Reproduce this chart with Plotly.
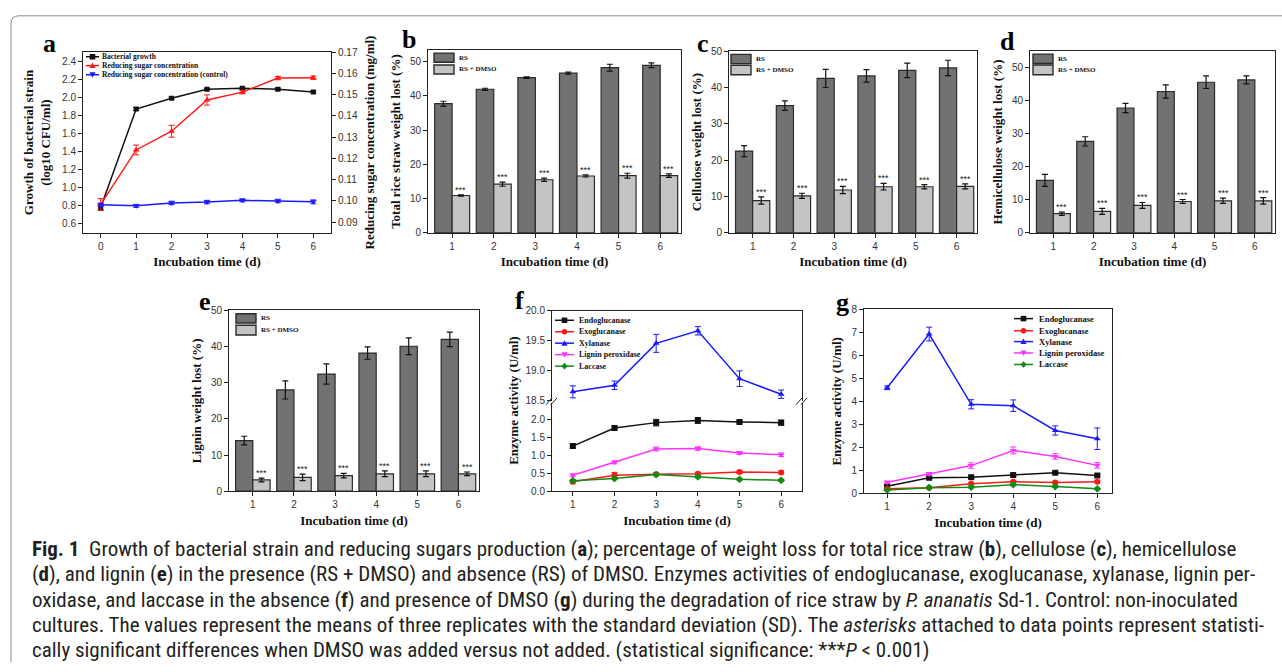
import plotly.graph_objects as go

W, H = 1282, 672

# ---------------- data ----------------
days_a = [0, 1, 2, 3, 4, 5, 6]
growth = [0.78, 1.87, 1.99, 2.09, 2.10, 2.09, 2.06]
growth_err = [0.03, 0.015, 0.012, 0.01, 0.012, 0.012, 0.01]
sugar = [0.0984, 0.1240, 0.1328, 0.1475, 0.1512, 0.1578, 0.1580]
sugar_err = [0.0027, 0.0023, 0.0028, 0.0024, 0.0008, 0.0008, 0.0008]
sugar_ctrl = [0.0982, 0.0977, 0.0991, 0.0995, 0.1003, 0.1000, 0.0996]
sugar_ctrl_err = [0.0008, 0.0007, 0.0008, 0.0008, 0.0007, 0.0008, 0.0009]

days = [1, 2, 3, 4, 5, 6]
b_rs = [37.7, 41.9, 45.3, 46.6, 48.2, 48.9]
b_rs_err = [0.7, 0.3, 0.2, 0.3, 1.0, 0.7]
b_dm = [10.9, 14.2, 15.5, 16.6, 16.7, 16.7]
b_dm_err = [0.2, 0.6, 0.5, 0.3, 0.7, 0.5]

c_rs = [22.5, 35.0, 42.5, 43.2, 44.7, 45.4]
c_rs_err = [1.5, 1.3, 2.5, 1.7, 2.0, 2.1]
c_dm = [8.9, 10.2, 11.8, 12.7, 12.7, 12.8]
c_dm_err = [1.0, 0.7, 1.0, 0.9, 0.6, 0.7]

d_rs = [15.9, 27.7, 37.8, 42.8, 45.6, 46.3]
d_rs_err = [1.8, 1.4, 1.4, 2.0, 1.9, 1.2]
d_dm = [5.8, 6.5, 8.3, 9.5, 9.7, 9.7]
d_dm_err = [0.5, 0.9, 0.9, 0.6, 0.8, 1.0]

e_rs = [14.0, 28.0, 32.4, 38.2, 40.1, 42.0]
e_rs_err = [1.2, 2.5, 2.8, 1.7, 2.3, 2.0]
e_dm = [3.1, 3.8, 4.3, 4.8, 4.8, 4.8]
e_dm_err = [0.5, 0.9, 0.6, 0.8, 0.8, 0.5]

enzymes = ["Endoglucanase", "Exoglucanase", "Xylanase", "Lignin peroxidase", "Laccase"]
f_endo = [1.25, 1.75, 1.90, 1.96, 1.92, 1.90]
f_endo_err = [0.06, 0.06, 0.09, 0.08, 0.03, 0.07]
f_exo = [0.26, 0.44, 0.47, 0.48, 0.53, 0.52]
f_exo_err = [0.05, 0.08, 0.04, 0.04, 0.04, 0.04]
f_xyl = [18.64, 18.75, 19.45, 19.66, 18.86, 18.60]
f_xyl_err = [0.10, 0.07, 0.15, 0.07, 0.13, 0.07]
f_lip = [0.44, 0.80, 1.17, 1.18, 1.06, 1.01]
f_lip_err = [0.04, 0.04, 0.05, 0.05, 0.04, 0.05]
f_lac = [0.29, 0.35, 0.46, 0.40, 0.33, 0.30]
f_lac_err = [0.03, 0.03, 0.03, 0.03, 0.03, 0.03]

g_endo = [0.30, 0.67, 0.69, 0.79, 0.89, 0.77]
g_endo_err = [0.04, 0.05, 0.05, 0.05, 0.05, 0.05]
g_exo = [0.19, 0.23, 0.41, 0.50, 0.46, 0.50]
g_exo_err = [0.03, 0.03, 0.04, 0.04, 0.04, 0.04]
g_xyl = [4.59, 6.93, 3.87, 3.81, 2.73, 2.37]
g_xyl_err = [0.08, 0.30, 0.20, 0.25, 0.20, 0.47]
g_lip = [0.47, 0.83, 1.20, 1.86, 1.60, 1.21]
g_lip_err = [0.05, 0.07, 0.12, 0.15, 0.12, 0.12]
g_lac = [0.14, 0.24, 0.26, 0.37, 0.29, 0.19]
g_lac_err = [0.03, 0.03, 0.03, 0.04, 0.03, 0.03]

x_title = "Incubation time (d)"

# ---------------- style ----------------
SERIF = "Liberation Serif, Times New Roman, serif"
SANS = "Liberation Sans, Arial, sans-serif"
RS_COL = "#727272"
DM_COL = "#c4c4c4"
EDGE = "#2b2b2b"
AX = "#222222"
EN_COL = ["#111111", "#ff1a1a", "#1a1aff", "#ff33ff", "#138a13"]
EN_SYM = ["square", "circle", "triangle-up", "triangle-down", "diamond"]


def xd(a, b):
    return [a / W, b / W]


def yd(top, bottom):
    return [1 - bottom / H, 1 - top / H]


def PX(x):
    return x / W


def PY(y):
    return 1 - y / H


def ax_style(**kw):
    d = dict(showline=True, linecolor=AX, linewidth=1, mirror=True, ticks="outside",
             ticklen=4, tickcolor=AX, tickwidth=1,
             tickfont=dict(family=SANS, size=10, color="#333333"),
             showgrid=False, zeroline=False)
    d.update(kw)
    return d


TITLE_FONT = dict(family=SERIF, size=13, color="#111111")

fig = go.Figure()
annotations = []
shapes = []

# ---------------- panel a ----------------
fig.add_trace(go.Scatter(
    x=days_a, y=growth, xaxis="x", yaxis="y", mode="lines+markers", name="Bacterial growth",
    line=dict(color=EN_COL[0], width=1.5), marker=dict(symbol="square", size=5, color=EN_COL[0]),
    error_y=dict(type="data", array=growth_err, color=EN_COL[0], thickness=1, width=3),
    showlegend=False))
fig.add_trace(go.Scatter(
    x=days_a, y=sugar, xaxis="x", yaxis="y2", mode="lines+markers", name="Reducing sugar concentration",
    line=dict(color=EN_COL[1], width=1.5), marker=dict(symbol="triangle-up", size=6, color=EN_COL[1]),
    error_y=dict(type="data", array=sugar_err, color=EN_COL[1], thickness=1, width=3),
    showlegend=False))
fig.add_trace(go.Scatter(
    x=days_a, y=sugar_ctrl, xaxis="x", yaxis="y2", mode="lines+markers",
    name="Reducing sugar concentration (control)",
    line=dict(color=EN_COL[2], width=1.5), marker=dict(symbol="triangle-down", size=6, color=EN_COL[2]),
    error_y=dict(type="data", array=sugar_ctrl_err, color=EN_COL[2], thickness=1, width=3),
    showlegend=False))

# ---------------- bar panels ----------------
BARGAP = 0.16
OFF = (1 - BARGAP) / 4


def add_bars(xa, ya, rs, rs_err, dm, dm_err):
    fig.add_trace(go.Bar(
        x=days, y=rs, xaxis=xa, yaxis=ya, name="RS",
        marker=dict(color=RS_COL, line=dict(color=EDGE, width=1.2)),
        error_y=dict(type="data", array=rs_err, color="#111111", thickness=1.2, width=3),
        showlegend=False))
    fig.add_trace(go.Bar(
        x=days, y=dm, xaxis=xa, yaxis=ya, name="RS + DMSO",
        marker=dict(color=DM_COL, line=dict(color=EDGE, width=1.2)),
        error_y=dict(type="data", array=dm_err, color="#111111", thickness=1.2, width=3),
        showlegend=False))
    for d, v, e in zip(days, dm, dm_err):
        annotations.append(dict(
            x=d + OFF, y=v + e, xref=xa, yref=ya, text="***", showarrow=False,
            xanchor="center", yanchor="bottom", yshift=-2,
            font=dict(family=SANS, size=9, color="#222222")))


add_bars("x2", "y3", b_rs, b_rs_err, b_dm, b_dm_err)
add_bars("x3", "y4", c_rs, c_rs_err, c_dm, c_dm_err)
add_bars("x4", "y5", d_rs, d_rs_err, d_dm, d_dm_err)
add_bars("x5", "y6", e_rs, e_rs_err, e_dm, e_dm_err)

# ---------------- enzyme panels ----------------
f_series = [(f_endo, f_endo_err, "y7"), (f_exo, f_exo_err, "y7"), (f_xyl, f_xyl_err, "y8"),
            (f_lip, f_lip_err, "y7"), (f_lac, f_lac_err, "y7")]
for i, (vals, errs, ya) in enumerate(f_series):
    fig.add_trace(go.Scatter(
        x=days, y=vals, xaxis="x6", yaxis=ya, mode="lines+markers", name=enzymes[i],
        line=dict(color=EN_COL[i], width=1.5), marker=dict(symbol=EN_SYM[i], size=6, color=EN_COL[i]),
        error_y=dict(type="data", array=errs, color=EN_COL[i], thickness=1, width=3),
        showlegend=False))

g_series = [(g_endo, g_endo_err), (g_exo, g_exo_err), (g_xyl, g_xyl_err),
            (g_lip, g_lip_err), (g_lac, g_lac_err)]
for i, (vals, errs) in enumerate(g_series):
    fig.add_trace(go.Scatter(
        x=days, y=vals, xaxis="x7", yaxis="y9", mode="lines+markers", name=enzymes[i],
        line=dict(color=EN_COL[i], width=1.5), marker=dict(symbol=EN_SYM[i], size=6, color=EN_COL[i]),
        error_y=dict(type="data", array=errs, color=EN_COL[i], thickness=1, width=3),
        showlegend=False))

# ---------------- axes ----------------
xt = dict(text="<b>" + x_title + "</b>", font=TITLE_FONT, standoff=6)
layout_axes = dict(
    xaxis=ax_style(domain=xd(83, 331), anchor="y", range=[-0.5, 6.5], dtick=1, title=xt),
    yaxis=ax_style(domain=yd(47, 231), anchor="x", range=[0.5, 2.5], dtick=0.2, tickformat=".1f",
                   title=dict(text="<b>Growth of bacterial strain<br>(log10 CFU/ml)</b>", font=TITLE_FONT,
                              standoff=8)),
    yaxis2=ax_style(overlaying="y", side="right", anchor="x", range=[0.085, 0.17], dtick=0.01,
                    tickformat=".2f", mirror=False,
                    title=dict(text="<b>Reducing sugar concentration (mg/ml)</b>", font=TITLE_FONT,
                               standoff=8)),
    xaxis2=ax_style(domain=xd(428, 681), anchor="y3", range=[0.42, 6.5], dtick=1, title=xt),
    yaxis3=ax_style(domain=yd(45, 231), anchor="x2", range=[0, 53.3], dtick=10,
                    title=dict(text="<b>Total rice straw weight lost (%)</b>", font=TITLE_FONT, standoff=6)),
    xaxis3=ax_style(domain=xd(729, 977), anchor="y4", range=[0.42, 6.5], dtick=1, title=xt),
    yaxis4=ax_style(domain=yd(46, 231), anchor="x3", range=[0, 50], dtick=10,
                    title=dict(text="<b>Cellulose weight lost (%)</b>", font=TITLE_FONT, standoff=6)),
    xaxis4=ax_style(domain=xd(1030, 1275), anchor="y5", range=[0.42, 6.5], dtick=1, title=xt),
    yaxis5=ax_style(domain=yd(46, 231), anchor="x4", range=[0, 55], dtick=10,
                    title=dict(text="<b>Hemicellulose weight lost (%)</b>", font=TITLE_FONT, standoff=6)),
    xaxis5=ax_style(domain=xd(229, 479), anchor="y6", range=[0.42, 6.5], dtick=1, title=xt),
    yaxis6=ax_style(domain=yd(310, 494), anchor="x5", range=[0, 50], dtick=10,
                    title=dict(text="<b>Lignin weight lost (%)</b>", font=TITLE_FONT, standoff=6)),
    xaxis6=ax_style(domain=xd(552, 802), anchor="y7", range=[0.5, 6.5], dtick=1, mirror=False, title=xt),
    yaxis7=ax_style(domain=yd(404, 494), anchor="x6", range=[0, 2.45], dtick=0.5, tickformat=".1f"),
    yaxis8=ax_style(domain=yd(310, 402), anchor="x6", range=[18.49, 20.0], dtick=0.5, tickformat=".1f"),
    xaxis7=ax_style(domain=xd(864, 1112), anchor="y9", range=[0.45, 6.35], dtick=1, title=xt),
    yaxis9=ax_style(domain=yd(309, 496), anchor="x7", range=[0, 8], dtick=1,
                    title=dict(text="<b>Enzyme activity (U/ml)</b>", font=TITLE_FONT, standoff=6)),
)

# f: top frame line + break marks + y title
shapes.append(dict(type="line", xref="paper", yref="paper", x0=PX(552), x1=PX(802), y0=PY(310), y1=PY(310),
                   line=dict(color=AX, width=1)))
for bx in (552, 802):
    for dx in (-3, 2):
        shapes.append(dict(type="line", xref="paper", yref="paper",
                           x0=PX(bx + dx - 3), y0=PY(406), x1=PX(bx + dx + 3), y1=PY(399),
                           line=dict(color=AX, width=1)))
annotations.append(dict(x=PX(514), y=PY(402), xref="paper", yref="paper", text="<b>Enzyme activity (U/ml)</b>",
                        textangle=-90, showarrow=False, font=TITLE_FONT, xanchor="center", yanchor="middle"))


# ---------------- manual legends ----------------
def marker_shape(cx, cy, sym, color, s=2.8):
    if sym == "square":
        return dict(type="rect", xref="paper", yref="paper", x0=PX(cx - s), x1=PX(cx + s),
                    y0=PY(cy + s), y1=PY(cy - s), fillcolor=color, line=dict(width=0))
    if sym == "circle":
        return dict(type="circle", xref="paper", yref="paper", x0=PX(cx - s), x1=PX(cx + s),
                    y0=PY(cy + s), y1=PY(cy - s), fillcolor=color, line=dict(width=0))
    if sym == "triangle-up":
        pts = [(cx, cy - s * 1.1), (cx + s * 1.1, cy + s * 0.9), (cx - s * 1.1, cy + s * 0.9)]
    elif sym == "triangle-down":
        pts = [(cx, cy + s * 1.1), (cx + s * 1.1, cy - s * 0.9), (cx - s * 1.1, cy - s * 0.9)]
    else:
        pts = [(cx, cy - s * 1.2), (cx + s * 1.1, cy), (cx, cy + s * 1.2), (cx - s * 1.1, cy)]
    path = "M " + " L ".join(f"{PX(x):.5f},{PY(y):.5f}" for x, y in pts) + " Z"
    return dict(type="path", xref="paper", yref="paper", path=path, fillcolor=color, line=dict(width=0))


def line_legend(x0, x1, tx, rows, labels, colors, syms, fsize):
    for y, lab, col, sym in zip(rows, labels, colors, syms):
        shapes.append(dict(type="line", xref="paper", yref="paper", x0=PX(x0), x1=PX(x1), y0=PY(y), y1=PY(y),
                           line=dict(color=col, width=1.5)))
        shapes.append(marker_shape((x0 + x1) / 2, y, sym, col))
        annotations.append(dict(x=PX(tx), y=PY(y), xref="paper", yref="paper", text="<b>" + lab + "</b>",
                                showarrow=False, xanchor="left", yanchor="middle",
                                font=dict(family=SERIF, size=fsize, color="#111111")))


def bar_legend(x0, x1, tx, rows):
    for (y0, y1), lab, col in zip(rows, ["RS", "RS + DMSO"], [RS_COL, DM_COL]):
        shapes.append(dict(type="rect", xref="paper", yref="paper", x0=PX(x0), x1=PX(x1), y0=PY(y1), y1=PY(y0),
                           fillcolor=col, line=dict(color=EDGE, width=1.4)))
        annotations.append(dict(x=PX(tx), y=PY((y0 + y1) / 2), xref="paper", yref="paper",
                                text="<b>" + lab + "</b>", showarrow=False, xanchor="left", yanchor="middle",
                                font=dict(family=SERIF, size=7, color="#111111")))


line_legend(86, 99, 100, [51.7, 60.7, 70.0],
            ["Bacterial growth", "Reducing sugar concentration", "Reducing sugar concentration (control)"],
            EN_COL[:3], ["square", "triangle-up", "triangle-down"], 7.5)
line_legend(555, 574, 577, [320, 331.7, 343.3, 355, 366.7], enzymes, EN_COL, EN_SYM, 8)
line_legend(1014, 1033, 1037, [318.3, 330.7, 341.7, 353.3, 365], enzymes, EN_COL, EN_SYM, 8.5)

bar_legend(434, 454, 457, [(48, 57.3), (60, 69.3)])
bar_legend(731, 751, 754, [(49.3, 58.7), (60.3, 70)])
bar_legend(1033, 1053, 1056, [(49, 58.5), (60, 70)])
bar_legend(236, 256, 259, [(313.3, 322.7), (325, 335)])

# ---------------- panel letters ----------------
for lab, x, y in [("a", 49, 38), ("b", 409, 34), ("c", 703, 38), ("d", 1007, 36),
                  ("e", 205, 301), ("f", 519, 300), ("g", 842, 302)]:
    annotations.append(dict(x=PX(x), y=PY(y), xref="paper", yref="paper", text="<b>" + lab + "</b>",
                            showarrow=False, xanchor="center", yanchor="middle",
                            font=dict(family=SERIF, size=26, color="#000000")))

# ---------------- caption ----------------
caption = [
    "<b>Fig. 1</b>  Growth of bacterial strain and reducing sugars production (<b>a</b>); percentage of weight loss "
    "for total rice straw (<b>b</b>), cellulose (<b>c</b>), hemicellulose",
    "(<b>d</b>), and lignin (<b>e</b>) in the presence (RS + DMSO) and absence (RS) of DMSO. Enzymes activities of "
    "endoglucanase, exoglucanase, xylanase, lignin per-",
    "oxidase, and laccase in the absence (<b>f</b>) and presence of DMSO (<b>g</b>) during the degradation of rice "
    "straw by <i>P. ananatis</i> Sd-1. Control: non-inoculated",
    "cultures. The values represent the means of three replicates with the standard deviation (SD). The "
    "<i>asterisks</i> attached to data points represent statisti-",
    "cally significant differences when DMSO was added versus not added. (statistical significance: "
    "***<i>P</i> &lt; 0.001)",
]
for i, line in enumerate(caption):
    annotations.append(dict(x=PX(30), y=PY(553 + i * 25.8), xref="paper", yref="paper", text=line,
                            showarrow=False, xanchor="left", yanchor="middle",
                            font=dict(family="Liberation Sans Narrow, Roboto Condensed, sans-serif", size=21,
                                      color="#231f20")))

# border
shapes.append(dict(type="path", xref="paper", yref="paper", layer="below",
                   path=f"M {PX(11)},{PY(668)} L {PX(11)},{PY(18)} Q {PX(11)},{PY(10)} {PX(19)},{PY(10)} "
                        f"L {PX(1290)},{PY(10)}",
                   line=dict(color="#8a8a8a", width=1)))

fig.update_layout(
    width=W, height=H, margin=dict(l=0, r=0, t=0, b=0),
    paper_bgcolor="white", plot_bgcolor="white",
    barmode="group", bargap=BARGAP, bargroupgap=0,
    showlegend=False, annotations=annotations, shapes=shapes,
    **layout_axes)

fig.write_html("out.html", config={"displayModeBar": False},
               post_script="document.body.style.margin='0';document.body.style.overflow='hidden';")
